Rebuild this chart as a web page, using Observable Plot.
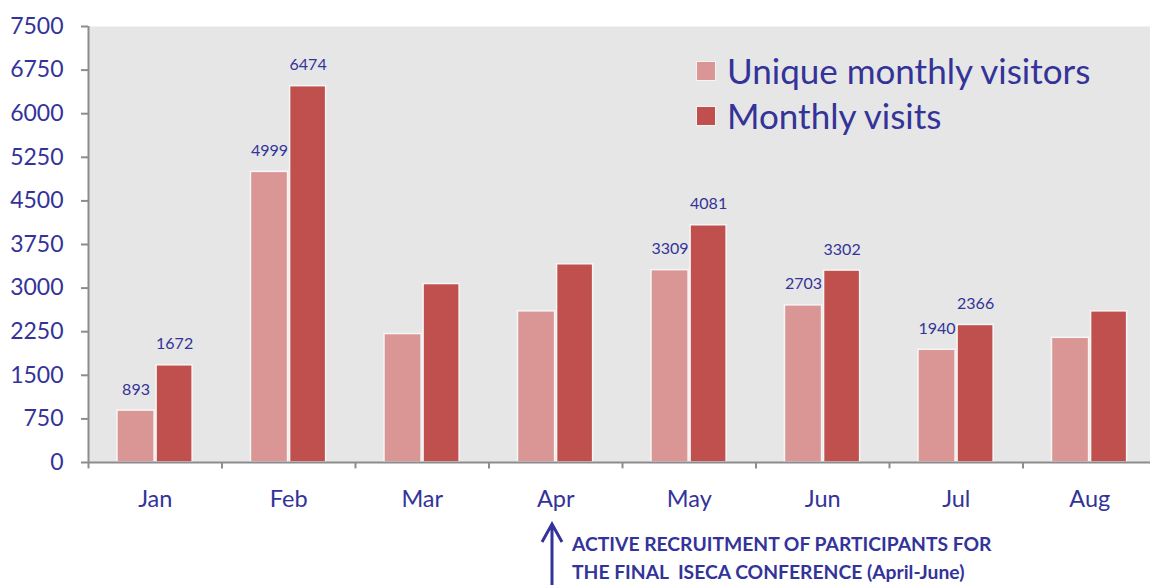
<!DOCTYPE html>
<html>
<head>
<meta charset="utf-8">
<script src="https://cdn.jsdelivr.net/npm/d3@7"></script>
<script src="https://cdn.jsdelivr.net/npm/@observablehq/plot@0.6"></script>
<style>
  html, body { margin: 0; padding: 0; background: #fff; overflow: hidden; width: 1150px; height: 585px; }
  #wrap { position: relative; width: 1150px; height: 585px; overflow: hidden; font-family: Lato, "DejaVu Sans", sans-serif; color: #333399; }
  #chart svg { max-width: none !important; }
  #legend { position: absolute; left: 696px; top: 48px; font-size: 35px; line-height: 45px; }
  #legend .row { display: flex; align-items: center; white-space: nowrap; }
  #legend .sw { width: 18px; height: 18px; border: 1px solid #f4f4f4; margin-right: 11px; }
  #note { position: absolute; left: 572px; top: 530px; font-size: 19.3px; font-weight: bold; line-height: 28px; white-space: nowrap; }
  #arrow { position: absolute; left: 537px; top: 518px; }
</style>
</head>
<body>
<div id="wrap">
  <div id="chart"></div>
  <div id="legend"></div>
  <svg id="arrow" width="32" height="70"><path d="M15 6 L15 70 M5 24 L15 6 L25 24" fill="none" stroke="#333399" stroke-width="3"/></svg>
  <div id="note">ACTIVE RECRUITMENT OF PARTICIPANTS FOR<br>THE FINAL&nbsp; ISECA CONFERENCE (April-June)</div>
</div>
<script>
const months = ["Jan", "Feb", "Mar", "Apr", "May", "Jun", "Jul", "Aug"];
const uniqueVisitors = [893, 4999, 2210, 2600, 3309, 2703, 1940, 2145];
const monthlyVisits = [1672, 6474, 3070, 3410, 4081, 3302, 2366, 2600];
const uniqueLabels = [893, 4999, null, null, 3309, 2703, 1940, null];
const visitsLabels = [1672, 6474, null, null, 4081, 3302, 2366, null];
const yTicks = [0, 750, 1500, 2250, 3000, 3750, 4500, 5250, 6000, 6750, 7500];
const seriesNames = ["Unique monthly visitors", "Monthly visits"];
const seriesColors = ["#d99694", "#c0504d"];

const rows = months.map((m, i) => ({
  month: m,
  unique: uniqueVisitors[i],
  visits: monthlyVisits[i],
  uLabel: uniqueLabels[i],
  vLabel: visitsLabels[i]
}));

const W = 1156, ML = 88, MR = 0;
const step = (W - ML - MR) / months.length;
const txt = "#333399";
const axisGray = "#8c8c8c";

const chart = Plot.plot({
  width: W,
  height: 585,
  marginLeft: ML,
  marginRight: MR,
  marginTop: 26,
  marginBottom: 123,
  style: { fontFamily: "Lato, sans-serif", background: "transparent", overflow: "visible", maxWidth: "none" },
  x: { type: "band", domain: months, padding: 0, round: false },
  y: { domain: [0, 7500] },
  marks: [
    Plot.frame({ fill: "#e6e6e6", stroke: null }),
    Plot.barY(rows, { x: "month", y: "unique", fill: seriesColors[0], stroke: "#f6f6f6", strokeWidth: 1.5,
      insetLeft: step * 0.217, insetRight: step * 0.505 }),
    Plot.barY(rows, { x: "month", y: "visits", fill: seriesColors[1], stroke: "#f6f6f6", strokeWidth: 1.5,
      insetLeft: step * 0.51, insetRight: step * 0.22 }),
    Plot.text(rows.filter(d => d.uLabel != null), { x: "month", y: "unique", text: d => String(d.uLabel),
      dx: step * (0.217 + (1 - 0.217 - 0.505) / 2 - 0.5), dy: -16, lineAnchor: "bottom",
      fill: txt, fontSize: 16 }),
    Plot.text(rows.filter(d => d.vLabel != null), { x: "month", y: "visits", text: d => String(d.vLabel),
      dx: step * (0.51 + (1 - 0.51 - 0.22) / 2 - 0.5), dy: -16, lineAnchor: "bottom",
      fill: txt, fontSize: 16 }),
    Plot.ruleY([0], { stroke: axisGray, strokeWidth: 2 }),
    Plot.ruleX(months, { x: d => d, y1: 0, y2: 7500, dx: -step / 2, stroke: axisGray, strokeWidth: 2, filter: (d, i) => i === 0 }),
    Plot.ruleX(months, { x: d => d, y1: 0, y2: -110, dx: -step / 2, stroke: axisGray, strokeWidth: 2 }),
    Plot.axisY({ ticks: yTicks, tickFormat: d => String(d), tickSize: 7, tickPadding: 18, stroke: axisGray, fill: txt, fontSize: 23, label: null, strokeWidth: 2 }),
    Plot.axisX({ tickSize: 0, tickPadding: 28, fill: txt, fontSize: 23.5, label: null })
  ]
});
document.getElementById("chart").appendChild(chart);

const legend = document.getElementById("legend");
seriesNames.forEach((name, i) => {
  const row = document.createElement("div");
  row.className = "row";
  const sw = document.createElement("div");
  sw.className = "sw";
  sw.style.background = seriesColors[i];
  const label = document.createElement("span");
  label.textContent = name;
  row.appendChild(sw);
  row.appendChild(label);
  legend.appendChild(row);
});
</script>
</body>
</html>
